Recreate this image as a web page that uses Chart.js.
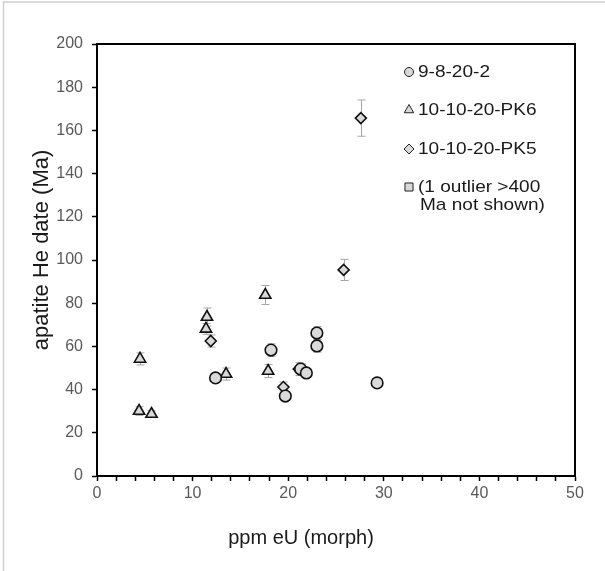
<!DOCTYPE html>
<html>
<head>
<meta charset="utf-8">
<script src="https://cdn.jsdelivr.net/npm/chart.js@4/dist/chart.umd.min.js"></script>
<style>
  html, body { margin: 0; padding: 0; background: #fff; }
  #wrap { width: 605px; height: 571px; }
</style>
</head>
<body>
<div id="wrap"><canvas id="c" width="605" height="571"></canvas></div>
<script>
// --- data ---
const seriesNames = ['9-8-20-2', '10-10-20-PK6', '10-10-20-PK5', '(1 outlier >400|Ma not shown)'];

const s1X = [12.4, 18.2, 19.7, 21.3, 21.9, 23.0, 23.0, 29.3];
const s1Y = [45.4, 58.3, 37.0, 49.5, 47.7, 66.2, 60.2, 43.1];
const s1Err = [1.5, 2.9, 1.5, 2.5, 2.0, 3.0, 2.8, 1.0];

const s2X = [4.5, 4.4, 5.7, 11.5, 11.4, 13.5, 17.6, 17.9];
const s2Y = [54.2, 30.1, 28.7, 73.6, 68.1, 47.2, 83.8, 48.6];
const s2Err = [2.8, 2.0, 1.5, 4.2, 2.5, 2.8, 4.4, 3.0];

const s3X = [11.9, 19.5, 21.1, 25.8, 27.6];
const s3Y = [62.5, 41.2, 49.5, 95.4, 165.7];
const s3Err = [2.8, 2.3, 3.0, 4.9, 8.4];

const xTicks = [0, 10, 20, 30, 40, 50];
const yTicks = [0, 20, 40, 60, 80, 100, 120, 140, 160, 180, 200];

const xTitle = 'ppm eU (morph)';
const yTitle = 'apatite He date (Ma)';

function pts(xs, ys, es) {
  return xs.map((x, i) => ({ x: x, y: ys[i], e: es[i] }));
}

const fill = '#d9d9d9';
const edge = '#111';
const FONT = '"Liberation Sans", Arial, sans-serif';

// error bars drawn behind markers
const errorBars = {
  id: 'errorBars',
  beforeDatasetsDraw(chart) {
    const ctx = chart.ctx;
    const xs = chart.scales.x, ys = chart.scales.y;
    ctx.save();
    ctx.strokeStyle = '#a6a6a6';
    ctx.lineWidth = 1;
    chart.data.datasets.forEach(ds => {
      ds.data.forEach(p => {
        if (!p.e) return;
        const px = Math.round(xs.getPixelForValue(p.x)) + 0.5;
        const top = ys.getPixelForValue(p.y + p.e);
        const bot = ys.getPixelForValue(p.y - p.e);
        ctx.beginPath();
        ctx.moveTo(px, top); ctx.lineTo(px, bot);
        ctx.moveTo(px - 4, top); ctx.lineTo(px + 4, top);
        ctx.moveTo(px - 4, bot); ctx.lineTo(px + 4, bot);
        ctx.stroke();
      });
    });
    ctx.restore();
  }
};

// frame, outer border, axis titles and the legend inside the plot
const extras = {
  id: 'extras',
  afterDraw(chart) {
    const ctx = chart.ctx;
    const a = chart.chartArea;
    ctx.save();
    ctx.strokeStyle = '#000';
    ctx.lineWidth = 2;
    ctx.strokeRect(a.left, a.top, a.right - a.left, a.bottom - a.top);

    ctx.strokeStyle = '#d0d0d0';
    ctx.lineWidth = 1.5;
    ctx.beginPath();
    ctx.moveTo(3.5, 571); ctx.lineTo(3.5, 2); ctx.lineTo(605, 2);
    ctx.stroke();

    // axis titles
    ctx.fillStyle = '#1a1a1a';
    ctx.textAlign = 'center';
    ctx.textBaseline = 'alphabetic';
    ctx.font = '20px ' + FONT;
    ctx.fillText(xTitle, 301, 544);
    ctx.save();
    ctx.translate(48, 250);
    ctx.rotate(-Math.PI / 2);
    ctx.font = '22px ' + FONT;
    ctx.fillText(yTitle, 0, 0);
    ctx.restore();

    // legend
    const styles = ['circle', 'triangle', 'rectRot', 'rect'];
    const radii = [4.5, 5.5, 5, 5.7];
    const rows = [72, 110, 149, 187];
    ctx.font = '17px ' + FONT;
    ctx.textBaseline = 'middle';
    ctx.textAlign = 'left';
    seriesNames.forEach((name, i) => {
      const y = rows[i];
      ctx.fillStyle = fill;
      ctx.strokeStyle = '#222';
      ctx.lineWidth = 1;
      Chart.helpers.drawPoint(ctx, { pointStyle: styles[i], radius: radii[i], borderWidth: 1, rotation: 0 }, 409, y);
      ctx.fillStyle = '#1a1a1a';
      name.split('|').forEach((line, j) => {
        ctx.save();
        ctx.translate(418 + (j ? 2 : 0), y + j * 18);
        ctx.scale(1.12, 1);
        ctx.fillText(line, 0, 0);
        ctx.restore();
      });
    });
    ctx.restore();
  }
};

const tickFont = { family: FONT, size: 16 };

new Chart(document.getElementById('c'), {
  type: 'scatter',
  data: {
    datasets: [
      { label: seriesNames[0], data: pts(s1X, s1Y, s1Err), pointStyle: 'circle', pointRadius: 5.8,
        backgroundColor: fill, borderColor: edge, borderWidth: 1.6 },
      { label: seriesNames[1], data: pts(s2X, s2Y, s2Err), pointStyle: 'triangle', pointRadius: 6.5,
        backgroundColor: fill, borderColor: edge, borderWidth: 1.6 },
      { label: seriesNames[2], data: pts(s3X, s3Y, s3Err), pointStyle: 'rectRot', pointRadius: 5.5,
        backgroundColor: fill, borderColor: edge, borderWidth: 1.6 }
    ]
  },
  options: {
    responsive: false,
    animation: false,
    layout: { padding: { top: 44, right: 30, left: 0, bottom: 0 } },
    plugins: { legend: { display: false }, tooltip: { enabled: false } },
    scales: {
      x: {
        type: 'linear', min: 0, max: 50,
        afterFit(s) { s.height = 95; },
        afterBuildTicks(s) {
          const t = [];
          for (let v = 0; v <= 50; v += 2) t.push({ value: v });
          s.ticks = t;
        },
        ticks: {
          autoSkip: false, maxRotation: 0, padding: 3, color: '#595959', font: tickFont,
          callback: v => (xTicks.includes(v) ? String(v) : '')
        },
        grid: { drawOnChartArea: false, tickLength: 5, tickColor: '#000', tickWidth: 1.5 },
        border: { color: '#000', width: 2 }
      },
      y: {
        type: 'linear', min: 0, max: 200,
        afterFit(s) { s.width = 97; },
        afterBuildTicks(s) { s.ticks = yTicks.map(v => ({ value: v })); },
        ticks: { autoSkip: false, padding: 9, color: '#595959', font: tickFont },
        grid: { drawOnChartArea: false, tickLength: 5, tickColor: '#000', tickWidth: 1.5 },
        border: { color: '#000', width: 2 }
      }
    }
  },
  plugins: [errorBars, extras]
});
</script>
</body>
</html>
